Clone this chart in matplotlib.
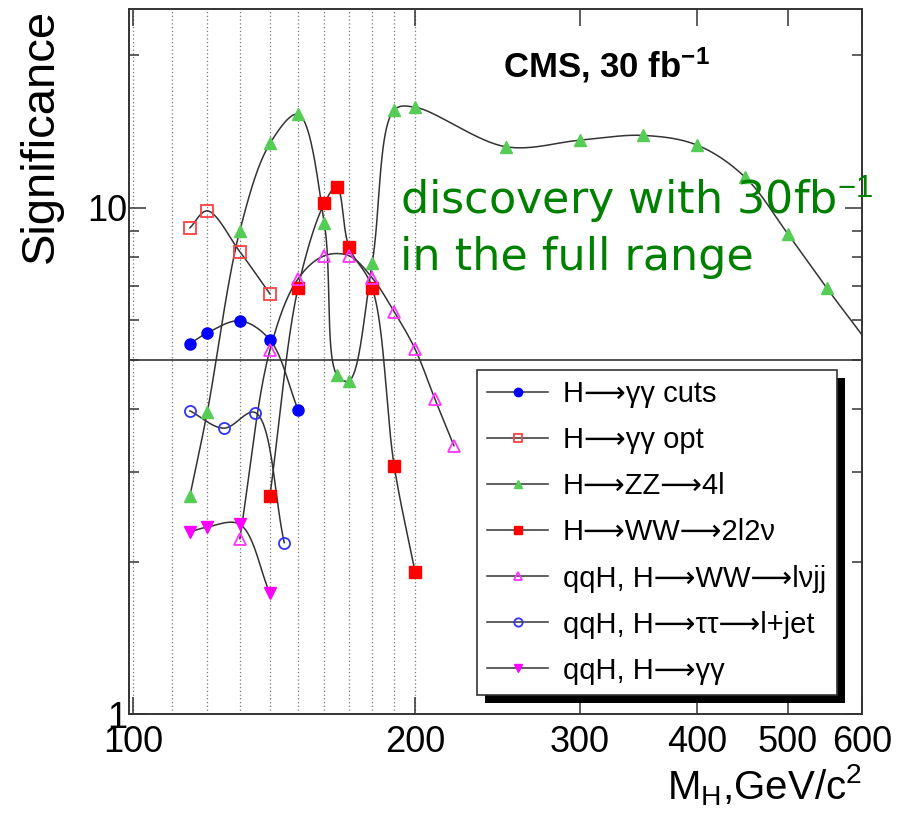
import numpy as np
import matplotlib
matplotlib.use('Agg')
import matplotlib.pyplot as plt
from matplotlib.patches import Rectangle
from matplotlib.transforms import IdentityTransform
from matplotlib.ticker import NullFormatter, NullLocator

plt.rcParams['font.family'] = ['Liberation Sans', 'DejaVu Sans']
plt.rcParams['mathtext.fontset'] = 'custom'
plt.rcParams['mathtext.rm'] = 'Liberation Sans'
plt.rcParams['mathtext.it'] = 'Liberation Sans:italic'
plt.rcParams['mathtext.bf'] = 'Liberation Sans:bold'

# --- data (M_H in GeV/c^2, significance) ---
mass_gg_cuts = [115, 120, 130, 140, 150]
sig_gg_cuts = [5.39, 5.66, 5.98, 5.48, 3.99]

mass_gg_opt = [115, 120, 130, 140]
sig_gg_opt = [9.13, 9.86, 8.19, 6.76]

mass_zz = [115, 120, 130, 140, 150, 160, 165, 170, 180, 190, 200,
           250, 300, 350, 400, 450, 500, 550, 600]
sig_zz = [2.70, 3.95, 9.01, 13.4, 15.3, 9.34, 4.68, 4.55, 7.79, 15.6, 15.8,
          13.2, 13.6, 13.9, 13.3, 11.5, 8.88, 6.95, 5.61]

mass_ww = [140, 150, 160, 165, 170, 180, 190, 200]
sig_ww = [2.70, 6.95, 10.2, 11.0, 8.37, 6.95, 3.09, 1.91]

mass_qqh_ww = [130, 140, 150, 160, 170, 180, 190, 200, 210, 220]
sig_qqh_ww = [2.22, 5.24, 7.24, 8.04, 8.04, 7.27, 6.23, 5.26, 4.19, 3.39]

mass_qqh_tt = [115, 125, 135, 145]
sig_qqh_tt = [3.97, 3.67, 3.94, 2.18]

mass_qqh_gg = [115, 120, 130, 140]
sig_qqh_gg = [2.29, 2.34, 2.37, 1.73]

ARROW = '\u27f6'
labels = ['H' + ARROW + '\u03b3\u03b3 cuts', 'H' + ARROW + '\u03b3\u03b3 opt',
          'H' + ARROW + 'ZZ' + ARROW + '4l', 'H' + ARROW + 'WW' + ARROW + '2l2\u03bd',
          'qqH, H' + ARROW + 'WW' + ARROW + 'l\u03bdjj',
          'qqH, H' + ARROW + '\u03c4\u03c4' + ARROW + 'l+jet',
          'qqH, H' + ARROW + '\u03b3\u03b3']

grid_masses = [100, 110, 120, 130, 140, 150, 160, 170, 180, 190, 200]
x_ticks = [100, 200, 300, 400, 500, 600]
y_minor = [2, 3, 4, 5, 6, 7, 8, 9, 20]


def smooth_curve(xs, ys, n=40, alpha=0.5):
    """Centripetal Catmull-Rom curve through the points, built in log-log
    (about pixel) space, to mimic ROOT's smoothed graph drawing."""
    P = np.column_stack([np.log10(xs) * 937, np.log10(ys) * 506])
    P = np.vstack([2 * P[0] - P[1], P, 2 * P[-1] - P[-2]])
    pieces = []
    for i in range(1, len(P) - 2):
        p0, p1, p2, p3 = P[i - 1], P[i], P[i + 1], P[i + 2]
        t0 = 0.0
        t1 = t0 + np.linalg.norm(p1 - p0) ** alpha
        t2 = t1 + np.linalg.norm(p2 - p1) ** alpha
        t3 = t2 + np.linalg.norm(p3 - p2) ** alpha
        t = np.linspace(t1, t2, n, endpoint=False)[:, None]
        a1 = (t1 - t) / (t1 - t0) * p0 + (t - t0) / (t1 - t0) * p1
        a2 = (t2 - t) / (t2 - t1) * p1 + (t - t1) / (t2 - t1) * p2
        a3 = (t3 - t) / (t3 - t2) * p2 + (t - t2) / (t3 - t2) * p3
        b1 = (t2 - t) / (t2 - t0) * a1 + (t - t0) / (t2 - t0) * a2
        b2 = (t3 - t) / (t3 - t1) * a2 + (t - t1) / (t3 - t1) * a3
        pieces.append((t2 - t) / (t2 - t1) * b1 + (t - t1) / (t2 - t1) * b2)
    pieces.append(P[-2][None, :])
    c = np.vstack(pieces)
    return 10 ** (c[:, 0] / 937), 10 ** (c[:, 1] / 506)


fig = plt.figure(figsize=(9.08, 8.13), dpi=100)
ax = fig.add_axes([129 / 908, 1 - 714 / 813, 733 / 908, 705 / 813])
ax.set_xscale('log')
ax.set_yscale('log')

for m in grid_masses:
    ax.axvline(m, color='#777777', lw=0.9, ls=(0, (1, 2)), zorder=1)
ax.axhline(5, color='#444444', lw=1.3, zorder=1)

series = [
    (mass_gg_cuts, sig_gg_cuts, dict(marker='o', mfc='#0000ff', mec='#0000ff')),
    (mass_gg_opt, sig_gg_opt, dict(marker='s', mfc='none', mec='#ff4040', mew=1.3)),
    (mass_zz, sig_zz, dict(marker='^', mfc='#55cc55', mec='#55cc55')),
    (mass_ww, sig_ww, dict(marker='s', mfc='#ff0000', mec='#ff0000')),
    (mass_qqh_ww, sig_qqh_ww, dict(marker='^', mfc='none', mec='#ff33ff', mew=1.3)),
    (mass_qqh_tt, sig_qqh_tt, dict(marker='o', mfc='none', mec='#3333ff', mew=1.3)),
    (mass_qqh_gg, sig_qqh_gg, dict(marker='v', mfc='#ff00ff', mec='#ff00ff')),
]

handles = []
for xs, ys, mstyle in series:
    sx, sy = smooth_curve(xs, ys)
    line, = ax.plot(sx, sy, color='#333333', lw=1.1, zorder=2)
    xs_a = np.asarray(xs, float)
    ys_a = np.asarray(ys, float)
    vis = xs_a < 600
    pts, = ax.plot(xs_a[vis], ys_a[vis], ls='none', ms=8, zorder=3, **mstyle)
    handles.append((line, pts))

ax.set_xlim(99, 600)
ax.set_ylim(1, 24.7)

ax.set_xticks(x_ticks, labels=[str(t) for t in x_ticks])
ax.xaxis.set_minor_locator(NullLocator())
ax.set_yticks([1, 10], labels=['1', '10'])
ax.set_yticks(y_minor, minor=True)
ax.yaxis.set_minor_formatter(NullFormatter())
ax.tick_params(which='both', direction='in', top=True, right=True,
               labelsize=26, color='#333333', width=1.1)
ax.tick_params(which='major', length=12)
ax.tick_params(which='minor', length=7)
ax.tick_params(axis='x', pad=8)
ax.tick_params(axis='y', pad=1)
for sp in ax.spines.values():
    sp.set_color('#333333')
    sp.set_linewidth(1.4)

ax.set_ylabel('Significance', fontsize=34, loc='top', labelpad=18)
ax.set_xlabel(r'M$_{\mathregular{H}}$,GeV/c$^{\mathregular{2}}$', fontsize=29,
              loc='right', labelpad=2)

fig.text(503 / 908, 1 - 77 / 813, r'CMS, 30 fb$^{\mathbf{-1}}$', fontsize=25,
         fontweight='bold', ha='left', va='baseline')

fig.text(400 / 908, 1 - 215 / 813, r'discovery with 30fb$^{-1}$', fontsize=32,
         color='#008000', family='DejaVu Sans', ha='left', va='baseline', zorder=5)
fig.text(400 / 908, 1 - 270 / 813, 'in the full range', fontsize=32,
         color='#008000', family='DejaVu Sans', ha='left', va='baseline', zorder=5)

leg = ax.legend(handles, labels, loc='upper left',
                bbox_to_anchor=(0.4748, 0.027, 0.4911, 0.461), mode='expand',
                borderaxespad=0, fontsize=21, handlelength=2.1, handletextpad=0.5,
                labelspacing=0.62, borderpad=0.35, markerscale=0.75,
                fancybox=False, framealpha=1, edgecolor='#333333')
leg.get_frame().set_linewidth(1.2)

fig.canvas.draw()
bb = leg.get_frame().get_window_extent()
ax.add_patch(Rectangle((bb.x0 + 8, bb.y0 - 8), bb.width, bb.height,
                       transform=IdentityTransform(), facecolor='black',
                       edgecolor='none', zorder=4.9, clip_on=False))

fig.savefig('out.png', dpi=100)
